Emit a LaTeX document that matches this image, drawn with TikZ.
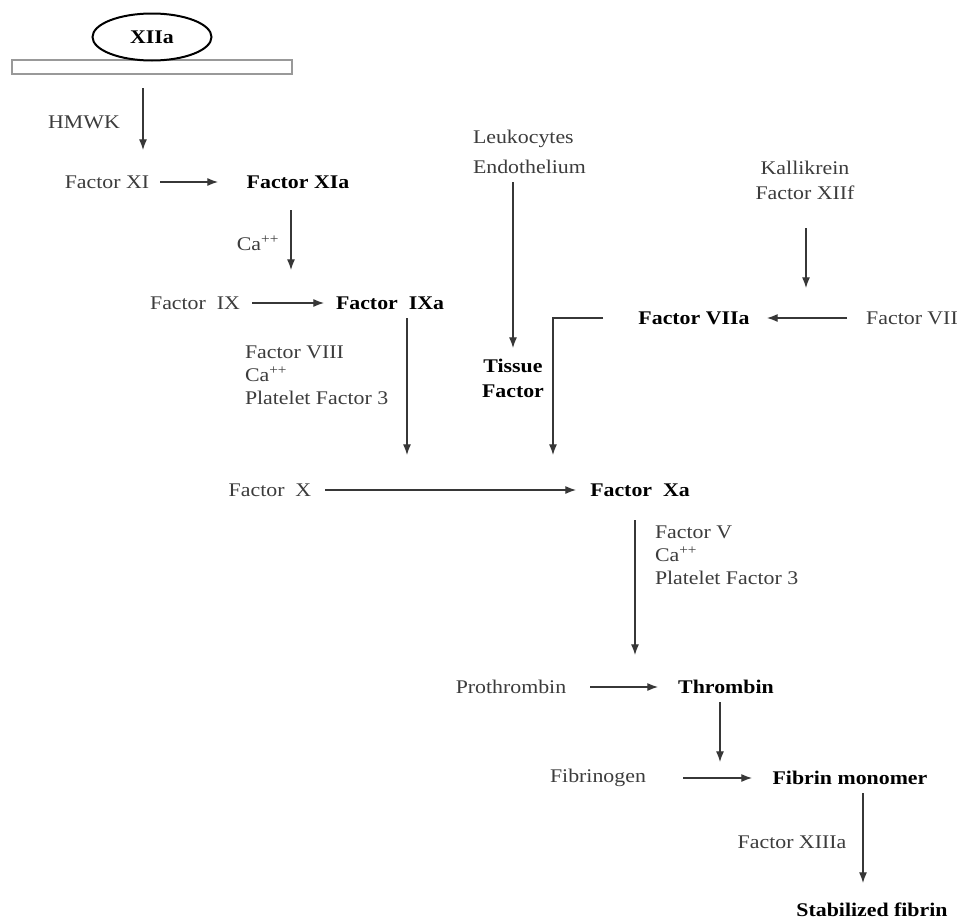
\documentclass[tikz,border=0pt]{standalone}
\usepackage{fontspec}
\setmainfont{Liberation Serif}[FakeStretch=1.13]
\usetikzlibrary{arrows.meta,calc,shapes.geometric}
\definecolor{txt}{RGB}{60,60,60}
\definecolor{ln}{RGB}{55,55,55}
\begin{document}
\begin{tikzpicture}[x=0.75pt,y=-0.75pt,
  every node/.style={inner sep=0pt,outer sep=0pt},
  lbl/.style={font=\fontsize{14.5}{17.4}\selectfont,text=txt},
  blbl/.style={font=\fontsize{14.5}{17.4}\selectfont\bfseries,text=black},
  arr/.style={draw=ln,line width=0.9pt,-{Latex[length=8pt,width=6pt]}},
  plain/.style={draw=ln,line width=0.9pt}]
\useasboundingbox[fill=white] (0,0) rectangle (968,921);

% nodes
\node[draw=gray!80,line width=1.2pt,minimum width=280*0.75pt,minimum height=14*0.75pt] (bar) at (152,67) {};
\node[ellipse,draw=black,line width=1.5pt,fill=white,minimum width=119*0.75pt,minimum height=47*0.75pt,blbl] (xiia) at (152,37) {XIIa};
\node[lbl] (hmwk) at (84,122) {HMWK};
\node[lbl] (fxi) at (107,182) {Factor XI};
\node[blbl] (fxia) at (298,182) {Factor XIa};
\node[lbl] (ca1) at (258,243) {Ca\textsuperscript{++}};
\node[lbl] (fix) at (195,303) {Factor\ \ IX};
\node[blbl] (fixa) at (390,303) {Factor\ \ IXa};
\node[lbl,anchor=west,align=left] (cof1) at (245,375) {Factor VIII\\Ca\textsuperscript{++}\\Platelet Factor 3};
\node[lbl,anchor=west,align=left,font=\fontsize{14.5}{22.5}\selectfont] (leuk) at (473,152) {Leukocytes\\Endothelium};
\node[blbl,align=center,font=\fontsize{14.5}{18.75}\selectfont\bfseries] (tf) at (513,378) {Tissue\\Factor};
\node[lbl,align=center,font=\fontsize{14.5}{18.75}\selectfont] (kal) at (805,180) {Kallikrein\\Factor XIIf};
\node[blbl] (fviia) at (694,318) {Factor VIIa};
\node[lbl] (fvii) at (912,318) {Factor VII};
\node[lbl] (fx) at (270,490) {Factor\ \ X};
\node[blbl] (fxa) at (640,490) {Factor\ \ Xa};
\node[lbl,anchor=west,align=left] (cof2) at (655,555) {Factor V\\Ca\textsuperscript{++}\\Platelet Factor 3};
\node[lbl] (proth) at (511,687) {Prothrombin};
\node[blbl] (thr) at (726,687) {Thrombin};
\node[lbl] (fibg) at (598,778) {Fibrinogen};
\node[blbl] (fibm) at (850,778) {Fibrin monomer};
\node[lbl] (f13) at (792,842) {Factor XIIIa};
\node[blbl] (stab) at (872,910) {Stabilized fibrin};

% connectors
\draw[arr] ($(bar.center)+(-9,21)$) -- ($(fxi.center)+(36,-32)$);
\draw[arr] ($(fxi.center)+(53,0)$) -- ($(fxia.center)+(-80,0)$);
\draw[arr] ($(fxia.center)+(-7,28)$) -- ($(fixa.center)+(-99,-33)$);
\draw[arr] ($(fix.center)+(57,0)$) -- ($(fixa.center)+(-66,0)$);
\draw[arr] ($(fixa.center)+(17,15)$) -- ($(fxa.center)+(-233,-35)$);
\draw[arr] ($(leuk.west)+(40,30)$) -- ($(tf.center)+(0,-30)$);
\draw[arr] ($(kal.center)+(1,48)$) -- ($(fviia.center)+(112,-30)$);
\draw[arr] ($(fvii.center)+(-65,0)$) -- ($(fviia.center)+(73,0)$);
\draw[arr] ($(fviia.center)+(-91,0)$) -| ($(fxa.center)+(-87,-35)$);
\draw[arr] ($(fx.center)+(55,0)$) -- ($(fxa.center)+(-64,0)$);
\draw[arr] ($(fxa.center)+(-5,30)$) -- ($(thr.center)+(-91,-32)$);
\draw[arr] ($(proth.center)+(79,0)$) -- ($(thr.center)+(-68,0)$);
\draw[arr] ($(thr.center)+(-6,15)$) -- ($(fibm.center)+(-130,-16)$);
\draw[arr] ($(fibg.center)+(85,0)$) -- ($(fibm.center)+(-98,0)$);
\draw[arr] ($(fibm.center)+(13,15)$) -- ($(stab.center)+(-9,-27)$);
\end{tikzpicture}
\end{document}
